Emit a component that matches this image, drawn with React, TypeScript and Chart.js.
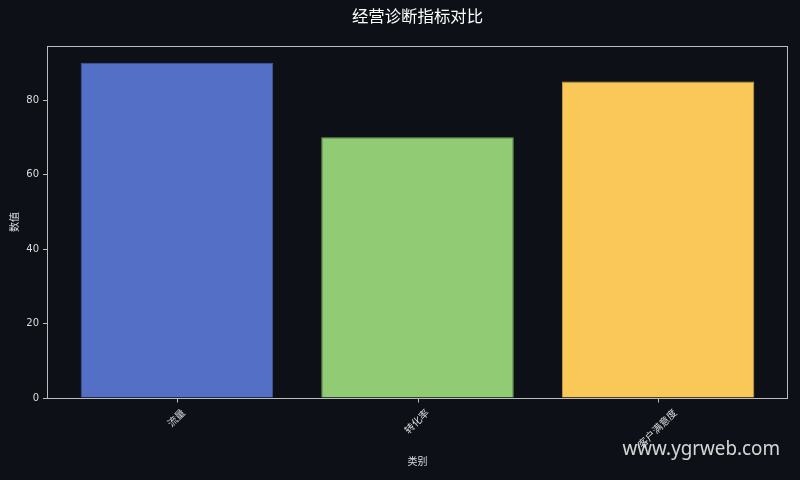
import { useEffect, useRef } from "react";
import { Chart, registerables } from "chart.js";

Chart.register(...registerables);

const TITLE = "经营诊断指标对比";
const X_TITLE = "类别";
const Y_TITLE = "数值";
const WATERMARK = "www.ygrweb.com";

const CATEGORIES = ["流量", "转化率", "客户满意度"];
const VALUES = [90, 70, 85];
const BAR_COLORS = ["#5470c6", "#91cc75", "#fac858"];
const BAR_EDGES = ["#42589e", "#76a85f", "#cda34a"];
const Y_TICKS = [0, 20, 40, 60, 80];
const Y_MAX = 94.5;

const BG = "#0d1017";
const FG = "#dddddd";
const AXIS = "#bdbdbd";
const FONT = '"DejaVu Sans", "Noto Sans CJK SC", sans-serif';

const decorations = {
  id: "decorations",
  beforeDraw(chart: any) {
    const { ctx, width, height } = chart;
    ctx.save();
    ctx.fillStyle = BG;
    ctx.fillRect(0, 0, width, height);
    ctx.restore();
  },
  afterDraw(chart: any) {
    const { ctx, chartArea: a } = chart;
    const cx = (a.left + a.right) / 2;
    const xs = chart.scales.x;
    ctx.save();

    // axes box
    ctx.strokeStyle = AXIS;
    ctx.lineWidth = 1;
    ctx.strokeRect(Math.round(a.left) + 0.5, Math.round(a.top) + 0.5, Math.round(a.right - a.left) - 1, Math.round(a.bottom - a.top));

    // x tick marks
    ctx.beginPath();
    CATEGORIES.forEach((_, i) => {
      const x = Math.round(xs.getPixelForValue(i)) + 0.5;
      ctx.moveTo(x, Math.round(a.bottom) + 0.5);
      ctx.lineTo(x, Math.round(a.bottom) + 4.5);
    });
    ctx.stroke();

    // title
    ctx.fillStyle = "#ffffff";
    ctx.font = `16.4px ${FONT}`;
    ctx.textAlign = "center";
    ctx.textBaseline = "middle";
    ctx.fillText(TITLE, cx, 18);

    // axis titles
    ctx.fillStyle = FG;
    ctx.font = `10px ${FONT}`;
    ctx.fillText(X_TITLE, cx, 462);
    ctx.save();
    ctx.translate(15, (a.top + a.bottom) / 2);
    ctx.rotate(-Math.PI / 2);
    ctx.fillText(Y_TITLE, 0, 0);
    ctx.restore();

    // rotated category labels, centred under ticks
    CATEGORIES.forEach((label, i) => {
      const w = ctx.measureText(label).width;
      const box = (w + 10) * Math.SQRT1_2;
      const x = xs.getPixelForValue(i);
      const y = a.bottom + 10 + box / 2;
      ctx.save();
      ctx.translate(x, y);
      ctx.rotate(-Math.PI / 4);
      ctx.fillText(label, 0, 0);
      ctx.restore();
    });

    // watermark
    ctx.fillStyle = "rgba(235,235,235,0.9)";
    ctx.font = '20px "Noto Sans", sans-serif';
    ctx.textAlign = "right";
    ctx.textBaseline = "alphabetic";
    ctx.translate(780, 455);
    ctx.scale(0.94, 1);
    ctx.fillText(WATERMARK, 0, 0);

    ctx.restore();
  },
};

export default function App() {
  const canvasRef = useRef<HTMLCanvasElement | null>(null);

  useEffect(() => {
    if (!canvasRef.current) return;

    const chart = new Chart(canvasRef.current.getContext("2d")!, {
      type: "bar",
      data: {
        datasets: [
          {
            data: VALUES.map((v, i) => ({ x: i, y: v })),
            backgroundColor: BAR_COLORS,
            borderColor: BAR_EDGES,
            borderWidth: 1,
            categoryPercentage: 1,
            barPercentage: 0.8,
          },
        ],
      },
      options: {
        animation: false,
        responsive: true,
        maintainAspectRatio: false,
        layout: { padding: { top: 46, right: 12, bottom: 0, left: 0 } },
        plugins: {
          legend: { display: false },
          title: { display: false },
          tooltip: { enabled: false },
        },
        scales: {
          x: {
            type: "linear",
            min: -0.54,
            max: 2.54,
            offset: false,
            ticks: { display: false },
            grid: { display: false },
            border: { display: false },
            afterBuildTicks: (s: any) => {
              s.ticks = CATEGORIES.map((_, i) => ({ value: i }));
            },
            afterFit: (s: any) => {
              s.height = 82;
            },
          },
          y: {
            min: 0,
            max: Y_MAX,
            ticks: {
              color: FG,
              padding: 4,
              font: { size: 10, family: FONT },
            },
            grid: {
              display: true,
              drawOnChartArea: false,
              drawTicks: true,
              tickLength: 4,
              color: AXIS,
            },
            border: { display: false },
            afterBuildTicks: (s: any) => {
              s.ticks = Y_TICKS.map((v) => ({ value: v }));
            },
            afterFit: (s: any) => {
              s.width = 47;
            },
          },
        },
      },
      plugins: [decorations],
    });

    return () => {
      chart.destroy();
    };
  }, []);

  return (
    <div
      style={{
        position: "fixed",
        left: 0,
        top: 0,
        width: "800px",
        height: "480px",
        background: BG,
      }}
    >
      <canvas ref={canvasRef}></canvas>
    </div>
  );
}
